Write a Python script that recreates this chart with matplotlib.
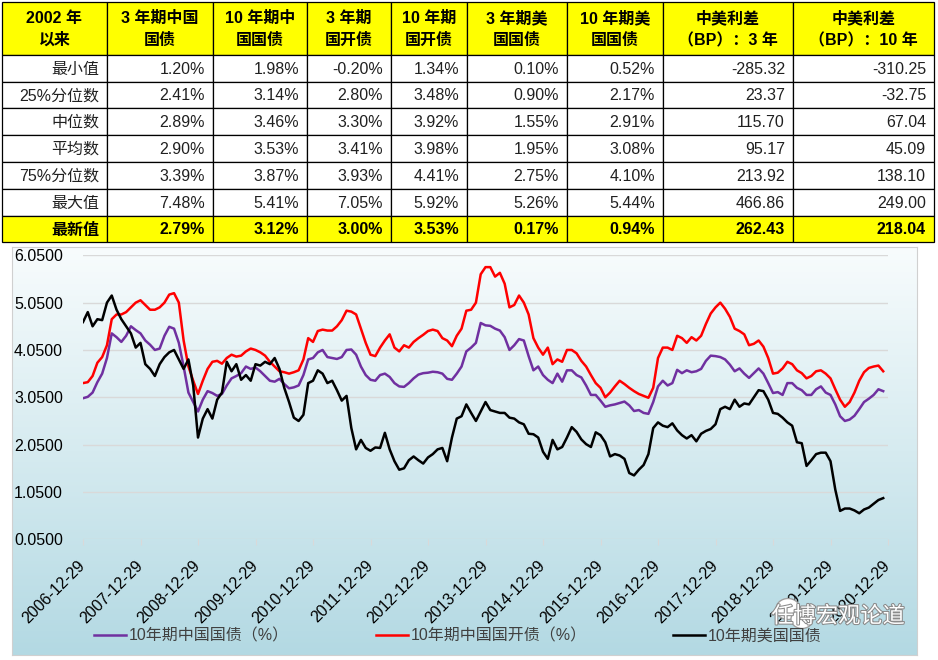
import numpy as np
import matplotlib
matplotlib.use("Agg")
import matplotlib.pyplot as plt
from matplotlib.patches import Rectangle, Ellipse
from matplotlib.colors import LinearSegmentedColormap
import matplotlib.patheffects as pe

plt.rcParams['font.family'] = ['Liberation Sans', 'Noto Sans CJK SC', 'DejaVu Sans']

W, H = 938, 660

# ---- table ----
col_headers = ['2002 年\n以来', '3 年期中国\n国债', '10 年期中\n国国债', '3 年期\n国开债', '10 年期\n国开债',
               '3 年期美\n国国债', '10 年期美\n国国债', '中美利差\n（BP）：3 年', '中美利差\n（BP）：10 年']
row_labels = ['最小值', '25%分位数', '中位数', '平均数', '75%分位数', '最大值', '最新值']
cgb3 = [1.20, 2.41, 2.89, 2.90, 3.39, 7.48, 2.79]
cgb10 = [1.98, 3.14, 3.46, 3.53, 3.87, 5.41, 3.12]
cdb3 = [-0.20, 2.80, 3.30, 3.41, 3.93, 7.05, 3.00]
cdb10 = [1.34, 3.48, 3.92, 3.98, 4.41, 5.92, 3.53]
ust3 = [0.10, 0.90, 1.55, 1.95, 2.75, 5.26, 0.17]
ust10 = [0.52, 2.17, 2.91, 3.08, 4.10, 5.44, 0.94]
spread3 = [-285.32, 23.37, 115.70, 95.17, 213.92, 466.86, 262.43]
spread10 = [-310.25, -32.75, 67.04, 45.09, 138.10, 249.00, 218.04]

# ---- line chart, monthly reads from 2006-12-29 ----
cgb10_line = [3.03, 3.06, 3.15, 3.37, 3.55, 3.88, 4.40, 4.32, 4.22, 4.35, 4.55, 4.47, 4.40, 4.25, 4.16, 4.05, 4.08,
              4.35, 4.54, 4.50, 4.20, 3.70, 3.15, 2.95, 2.75, 3.00, 3.18, 3.14, 3.08, 3.12, 3.30, 3.45, 3.50, 3.56,
              3.70, 3.65, 3.68, 3.60, 3.50, 3.40, 3.38, 3.44, 3.33, 3.24, 3.26, 3.30, 3.52, 3.85, 3.88, 4.00, 4.05,
              3.90, 3.88, 3.86, 3.90, 4.05, 4.06, 3.95, 3.70, 3.52, 3.42, 3.40, 3.52, 3.55, 3.48, 3.35, 3.28,
              3.27, 3.35, 3.45, 3.53, 3.56, 3.57, 3.59, 3.58, 3.55, 3.44, 3.42, 3.55, 3.70, 4.02, 4.10, 4.20, 4.62,
              4.57, 4.56, 4.50, 4.46, 4.32, 4.05, 4.15, 4.28, 4.25, 3.92, 3.62, 3.70, 3.52, 3.42, 3.35, 3.55, 3.38,
              3.62, 3.62, 3.52, 3.47, 3.30, 3.10, 3.10, 2.98, 2.85, 2.88, 2.90, 2.93, 2.96, 2.88, 2.76, 2.78, 2.72,
              2.70, 2.95, 3.28, 3.40, 3.30, 3.35, 3.63, 3.56, 3.62, 3.58, 3.60, 3.65, 3.82, 3.93, 3.92, 3.90,
              3.85, 3.74, 3.60, 3.66, 3.55, 3.46, 3.56, 3.66, 3.55, 3.35, 3.14, 3.16, 3.10, 3.35, 3.35, 3.25, 3.20,
              3.10, 3.10, 3.22, 3.28, 3.15, 3.10, 2.90, 2.65, 2.55, 2.58, 2.66, 2.80, 2.95, 3.02, 3.10, 3.22, 3.18]
cdb10_line = [3.35, 3.37, 3.50, 3.78, 3.90, 4.15, 4.70, 4.80, 4.80, 4.85, 4.95, 5.05, 5.10, 5.00, 4.90, 4.90, 4.95,
              5.05, 5.22, 5.25, 5.05, 4.25, 3.70, 3.40, 3.12, 3.40, 3.65, 3.80, 3.82, 3.76, 3.88, 3.95, 3.91, 3.93,
              4.02, 4.08, 4.05, 4.00, 3.93, 3.80, 3.70, 3.60, 3.58, 3.55, 3.58, 3.62, 3.85, 4.30, 4.22, 4.45, 4.48,
              4.46, 4.46, 4.55, 4.68, 4.88, 4.86, 4.80, 4.50, 4.20, 3.95, 3.92, 4.10, 4.25, 4.38, 4.10, 4.02,
              4.15, 4.10, 4.22, 4.30, 4.37, 4.45, 4.48, 4.45, 4.30, 4.25, 4.13, 4.35, 4.50, 4.88, 4.90, 5.05, 5.65,
              5.80, 5.80, 5.60, 5.68, 5.45, 4.95, 5.00, 5.20, 5.05, 4.80, 4.30, 4.10, 3.95, 4.10, 3.75, 3.85, 3.80,
              4.05, 4.05, 3.98, 3.82, 3.70, 3.52, 3.35, 3.25, 3.05, 3.15, 3.28, 3.40, 3.33, 3.25, 3.18, 3.12, 3.08,
              3.04, 3.25, 3.88, 4.10, 4.10, 4.05, 4.35, 4.30, 4.20, 4.32, 4.25, 4.35, 4.60, 4.82, 4.95, 5.05,
              4.92, 4.75, 4.50, 4.45, 4.38, 4.15, 4.18, 4.25, 4.12, 3.88, 3.55, 3.57, 3.66, 3.80, 3.75, 3.62, 3.56,
              3.45, 3.50, 3.60, 3.62, 3.55, 3.45, 3.22, 3.00, 2.85, 2.95, 3.15, 3.40, 3.58, 3.67, 3.70, 3.72, 3.60]
ust10_line = [4.64, 4.85, 4.55, 4.70, 4.68, 5.05, 5.20, 4.90, 4.70, 4.55, 4.40, 4.10, 4.20, 3.75, 3.65, 3.50, 3.75,
              3.90, 4.00, 4.05, 3.85, 3.65, 3.85, 3.30, 2.20, 2.60, 2.80, 2.60, 3.00, 3.15, 3.80, 3.60, 3.75, 3.42,
              3.52, 3.40, 3.75, 3.72, 3.80, 3.75, 3.88, 3.65, 3.25, 2.95, 2.62, 2.55, 2.68, 3.35, 3.40, 3.62, 3.55,
              3.35, 3.40, 3.20, 2.98, 3.08, 2.40, 1.95, 2.15, 1.98, 1.92, 1.99, 1.98, 2.30, 1.95, 1.70, 1.52,
              1.55, 1.72, 1.80, 1.72, 1.65, 1.78, 1.85, 1.95, 1.98, 1.70, 2.20, 2.60, 2.65, 2.90, 2.72, 2.55, 2.75,
              2.95, 2.78, 2.75, 2.72, 2.72, 2.62, 2.60, 2.52, 2.48, 2.28, 2.27, 2.20, 1.90, 1.75, 2.15, 1.95, 2.00,
              2.20, 2.42, 2.32, 2.16, 2.06, 2.00, 2.31, 2.25, 2.10, 1.80, 1.85, 1.82, 1.75, 1.45, 1.40, 1.52, 1.62,
              1.85, 2.40, 2.52, 2.45, 2.42, 2.50, 2.35, 2.25, 2.18, 2.25, 2.12, 2.28, 2.34, 2.38, 2.48, 2.80,
              2.85, 2.80, 3.00, 2.85, 2.92, 2.90, 3.05, 3.20, 3.18, 3.00, 2.72, 2.70, 2.62, 2.52, 2.45, 2.10, 2.08,
              1.60, 1.72, 1.85, 1.88, 1.88, 1.70, 1.10, 0.65, 0.70, 0.70, 0.66, 0.60, 0.68, 0.72, 0.80, 0.88, 0.92]
tick_labels = [f"{y}-12-29" for y in range(2006, 2021)]
y_ticks = [0.05, 1.05, 2.05, 3.05, 4.05, 5.05, 6.05]
legend_labels = ['10年期中国国债（%）', '10年期中国国开债（%）', '10年期美国国债']
line_colors = ['#7030A0', '#FF0000', '#000000']


def px_rect(x0, y0, x1, y1):
    # pixel box (top-left origin) -> figure fraction
    return [x0 / W, 1 - y1 / H, (x1 - x0) / W, (y1 - y0) / H]


fig = plt.figure(figsize=(W / 100, H / 100), dpi=100)

# table drawn in pixel coords
col_edges = [2, 107, 213, 307, 391, 467, 567, 663, 793, 934]
row_edges = [2, 55, 82, 108, 135, 162, 189, 216, 242]
axt = fig.add_axes(px_rect(0, 0, W, 245))
axt.set_xlim(0, W)
axt.set_ylim(245, 0)
axt.axis('off')

columns = [cgb3, cgb10, cdb3, cdb10, ust3, ust10, spread3, spread10]
n_rows = len(row_labels)
for r in range(n_rows + 1):
    y0, y1 = row_edges[r], row_edges[r + 1]
    yellow = r == 0 or r == n_rows
    for c in range(len(col_edges) - 1):
        x0, x1 = col_edges[c], col_edges[c + 1]
        axt.add_patch(Rectangle((x0, y0), x1 - x0, y1 - y0, facecolor='#FFFF00' if yellow else 'white',
                                edgecolor='black', lw=0.9))
        ym = (y0 + y1) / 2
        if r == 0:
            axt.text((x0 + x1) / 2, ym + 1, col_headers[c], ha='center', va='center', fontsize=11.5,
                     fontweight='bold', linespacing=1.55)
            continue
        weight = 'bold' if yellow else 'normal'
        if c == 0:
            txt = row_labels[r - 1]
        else:
            v = columns[c - 1][r - 1]
            txt = f"{v:.2f}" if c >= 7 else f"{v:.2f}%"
        axt.text(x1 - 8, ym + 1, txt, ha='right', va='center', fontsize=11.5, fontweight=weight,
                 color='black' if yellow else '#202020')

# chart background with gradient
bg = fig.add_axes(px_rect(12, 247, 917, 655))
grad = np.linspace(0, 1, 256)[:, None]
cmap = LinearSegmentedColormap.from_list('bg', ['#f8fcfd', '#d6ebf0', '#b3d9e3'])
bg.imshow(grad, aspect='auto', cmap=cmap, extent=[0, 1, 0, 1])
bg.set_xticks([])
bg.set_yticks([])
for s in bg.spines.values():
    s.set_color('#d0d0d0')

ax = fig.add_axes(px_rect(83, 255.3, 888, 539.3))
ax.patch.set_alpha(0)
x = np.arange(len(cgb10_line))
for vals, col, lab in zip([cgb10_line, cdb10_line, ust10_line], line_colors, legend_labels):
    ax.plot(x, vals, color=col, lw=1.8, label=lab)

ax.set_ylim(0.05, 6.05)
ax.set_xlim(0, 168)
ax.set_yticks(y_ticks)
ax.set_yticklabels([f"{v:.4f}" for v in y_ticks], fontsize=11.5)
ax.set_xticks(np.arange(0, 169, 12))
ax.set_xticklabels(tick_labels, rotation=45, ha='right', va='center', rotation_mode='anchor', fontsize=11.5)
ax.tick_params(axis='y', length=0, pad=14.5)
ax.tick_params(axis='x', length=4, color='#d9d9d9', pad=13)
ax.grid(axis='y', color='#d9d9d9', lw=1)
ax.set_axisbelow(True)
for s in ax.spines.values():
    s.set_visible(False)

fig.legend(*ax.get_legend_handles_labels(), loc='center', bbox_to_anchor=(458 / W, 1 - 636 / H), ncol=3,
           frameon=False, fontsize=11.5, handlelength=2.0, handletextpad=0.2, columnspacing=5.4,
           labelcolor='#404040')

# watermark
fig.text(905 / W, 1 - 617 / H, '任博宏观论道', ha='right', va='center', fontsize=16, color='white',
         path_effects=[pe.withStroke(linewidth=1.5, foreground='#8a8a8a')])
ov = fig.add_axes([0, 0, 1, 1])
ov.set_xlim(0, W)
ov.set_ylim(H, 0)
ov.axis('off')
ov.add_patch(Ellipse((788, 609), 24, 21, facecolor='white', edgecolor='#a0a0a0', lw=1))
ov.add_patch(Ellipse((802, 619), 22, 19, facecolor='white', edgecolor='#a0a0a0', lw=1))

fig.savefig('out.png', dpi=100)
